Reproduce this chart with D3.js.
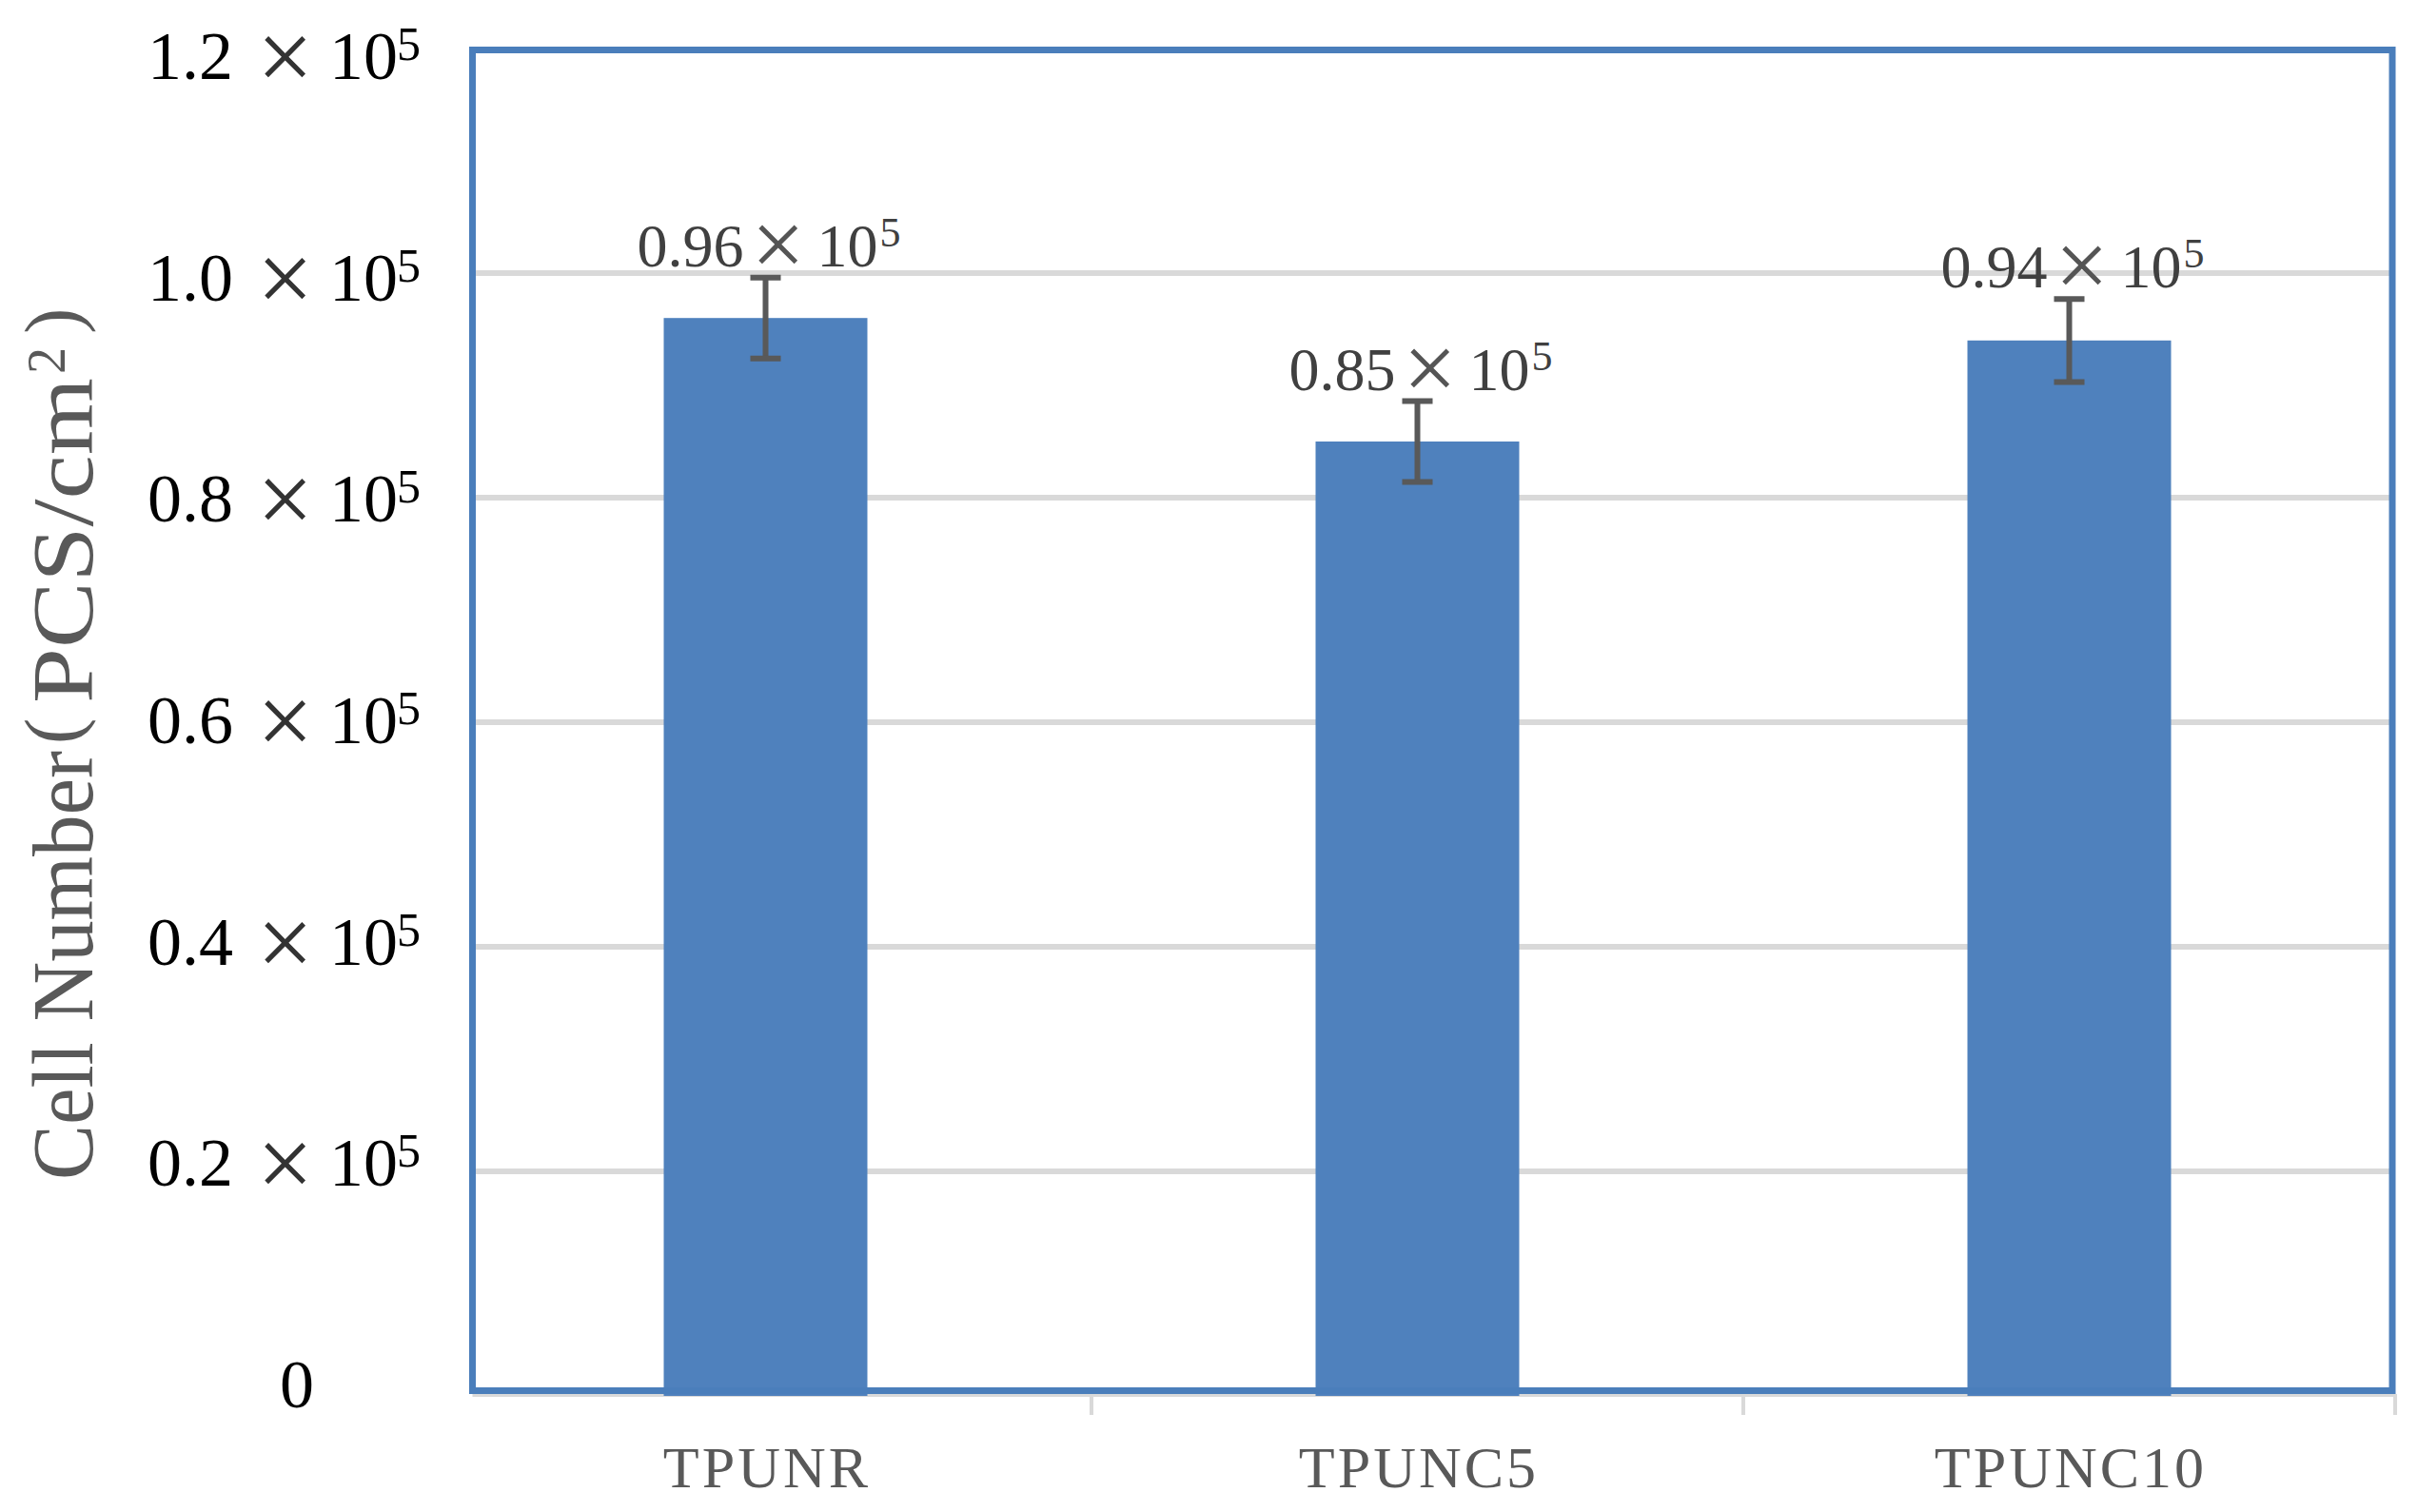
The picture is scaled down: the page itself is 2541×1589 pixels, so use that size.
<!DOCTYPE html>
<html>
<head>
<meta charset="utf-8">
<script src="https://cdn.jsdelivr.net/npm/d3@7"></script>
<style>
  html, body { margin: 0; padding: 0; background: #fff; }
  svg { display: block; }
  text { font-family: "Liberation Serif", "Times New Roman", serif; }
</style>
</head>
<body>
<script>
// chart data
var categories = ["TPUNR", "TPUNC5", "TPUNC10"];
var cellNumbers = [0.96, 0.85, 0.94];      // x 10^5 PCS/cm2
var errors = [0.036, 0.036, 0.037];
var yTicks = [0, 0.2, 0.4, 0.6, 0.8, 1.0, 1.2];

var W = 2541, H = 1589;
var svg = d3.select("body").append("svg").attr("width", W).attr("height", H);

var y = d3.scaleLinear().domain([0, 1.2]).range([1467, 51]);
// tick labels sit a little off the grid, like the original
var yLab = d3.scaleLinear().domain([0, 1.2]).range([1455, 59]);
var x = d3.scaleBand().domain(categories).range([462, 2517]).padding(0);
var barW = 214;

var box = { left: 496.5, right: 2514, top: 52.5, bottom: 1461.5 };

// grid lines
svg.append("g").selectAll("line").data(yTicks.filter(function(t) { return t > 0 && t < 1.2; }))
  .enter().append("line")
  .attr("x1", box.left).attr("x2", box.right)
  .attr("y1", function(d) { return y(d); }).attr("y2", function(d) { return y(d); })
  .attr("stroke", "#d9d9d9").attr("stroke-width", 6);

// category axis line + ticks (under the frame)
svg.append("line").attr("x1", box.left).attr("x2", 2518)
  .attr("y1", 1466.5).attr("y2", 1466.5).attr("stroke", "#d9d9d9").attr("stroke-width", 3);
svg.append("g").selectAll("line").data(categories)
  .enter().append("line")
  .attr("x1", function(d) { return x(d) + x.bandwidth(); })
  .attr("x2", function(d) { return x(d) + x.bandwidth(); })
  .attr("y1", 1465).attr("y2", 1487)
  .attr("stroke", "#d9d9d9").attr("stroke-width", 4);

// bars
svg.append("g").selectAll("rect").data(categories)
  .enter().append("rect")
  .attr("x", function(d) { return x(d) + (x.bandwidth() - barW) / 2; })
  .attr("width", barW)
  .attr("y", function(d, i) { return y(cellNumbers[i]); })
  .attr("height", function(d, i) { return y(0) - y(cellNumbers[i]); })
  .attr("fill", "#4f81bd");

// blue frame
svg.append("rect")
  .attr("x", box.left).attr("y", box.top)
  .attr("width", box.right - box.left).attr("height", box.bottom - box.top)
  .attr("fill", "none").attr("stroke", "#4a7ebb").attr("stroke-width", 7);

// error bars
var eb = svg.append("g").attr("stroke", "#595959").attr("stroke-width", 6);
categories.forEach(function(c, i) {
  var cx = x(c) + x.bandwidth() / 2;
  var t = y(cellNumbers[i] + errors[i]), b = y(cellNumbers[i] - errors[i]);
  eb.append("line").attr("x1", cx).attr("x2", cx).attr("y1", t).attr("y2", b);
  eb.append("line").attr("x1", cx - 16).attr("x2", cx + 16).attr("y1", t).attr("y2", t);
  eb.append("line").attr("x1", cx - 16).attr("x2", cx + 16).attr("y1", b).attr("y2", b);
});

// data labels: "0.96×10^5"
categories.forEach(function(c, i) {
  var cx = x(c) + x.bandwidth() / 2;
  var base = y(cellNumbers[i] + errors[i]) - 12;
  var t = svg.append("text").attr("y", base).attr("fill", "#404040").style("font-size", "64px");
  t.append("tspan").attr("x", cx - 135).text(cellNumbers[i].toFixed(2));
  t.append("tspan").attr("x", cx - 15).attr("dy", 10).style("font-size", "100px").attr("fill", "#555").text("×");
  t.append("tspan").attr("x", cx + 54).attr("dy", -10).text("10");
  t.append("tspan").attr("x", cx + 120).attr("dy", -21).style("font-size", "44px").text("5");
});

// y tick labels
yTicks.forEach(function(v) {
  var base = yLab(v) + 24;
  if (v === 0) {
    svg.append("text").attr("x", 312).attr("y", base)
      .attr("text-anchor", "middle").attr("fill", "#000")
      .style("font-size", "72px").text("0");
    return;
  }
  var t = svg.append("text").attr("y", base).attr("fill", "#000").style("font-size", "72px");
  t.append("tspan").attr("x", 155).text(v.toFixed(1));
  t.append("tspan").attr("x", 270).attr("dy", 12).style("font-size", "105px").attr("fill", "#333").text("×");
  t.append("tspan").attr("x", 346).attr("dy", -12).text("10");
  t.append("tspan").attr("x", 417).attr("dy", -20).style("font-size", "50px").text("5");
});

// x labels
svg.append("g").selectAll("text").data(categories)
  .enter().append("text")
  .attr("x", function(d) { return x(d) + x.bandwidth() / 2 + 1.5; })
  .attr("y", 1563)
  .attr("text-anchor", "middle")
  .attr("fill", "#595959").style("font-size", "62px").style("letter-spacing", "3px")
  .text(function(d) { return d; });

// y title "Cell Number（PCS/cm²）", laid out piece by piece along the rotated axis
var yt = svg.append("g").attr("transform", "translate(97,0) rotate(-90)")
  .attr("fill", "#595959");
function titlePart(txt, x0, size, dy, len) {
  var t = yt.append("text").attr("x", x0).attr("y", dy).style("font-size", size + "px").text(txt);
  if (len) t.attr("textLength", len).attr("lengthAdjust", "spacingAndGlyphs");
  return t;
}
titlePart("Cell Number", -1240, 92, 0, 451);
titlePart("(", -782, 82, -14.5);
titlePart("PCS/cm", -739, 92, 0, 342);
titlePart("2", -393, 56, -29);
titlePart(")", -351, 82, -14.5);
</script>
</body>
</html>
